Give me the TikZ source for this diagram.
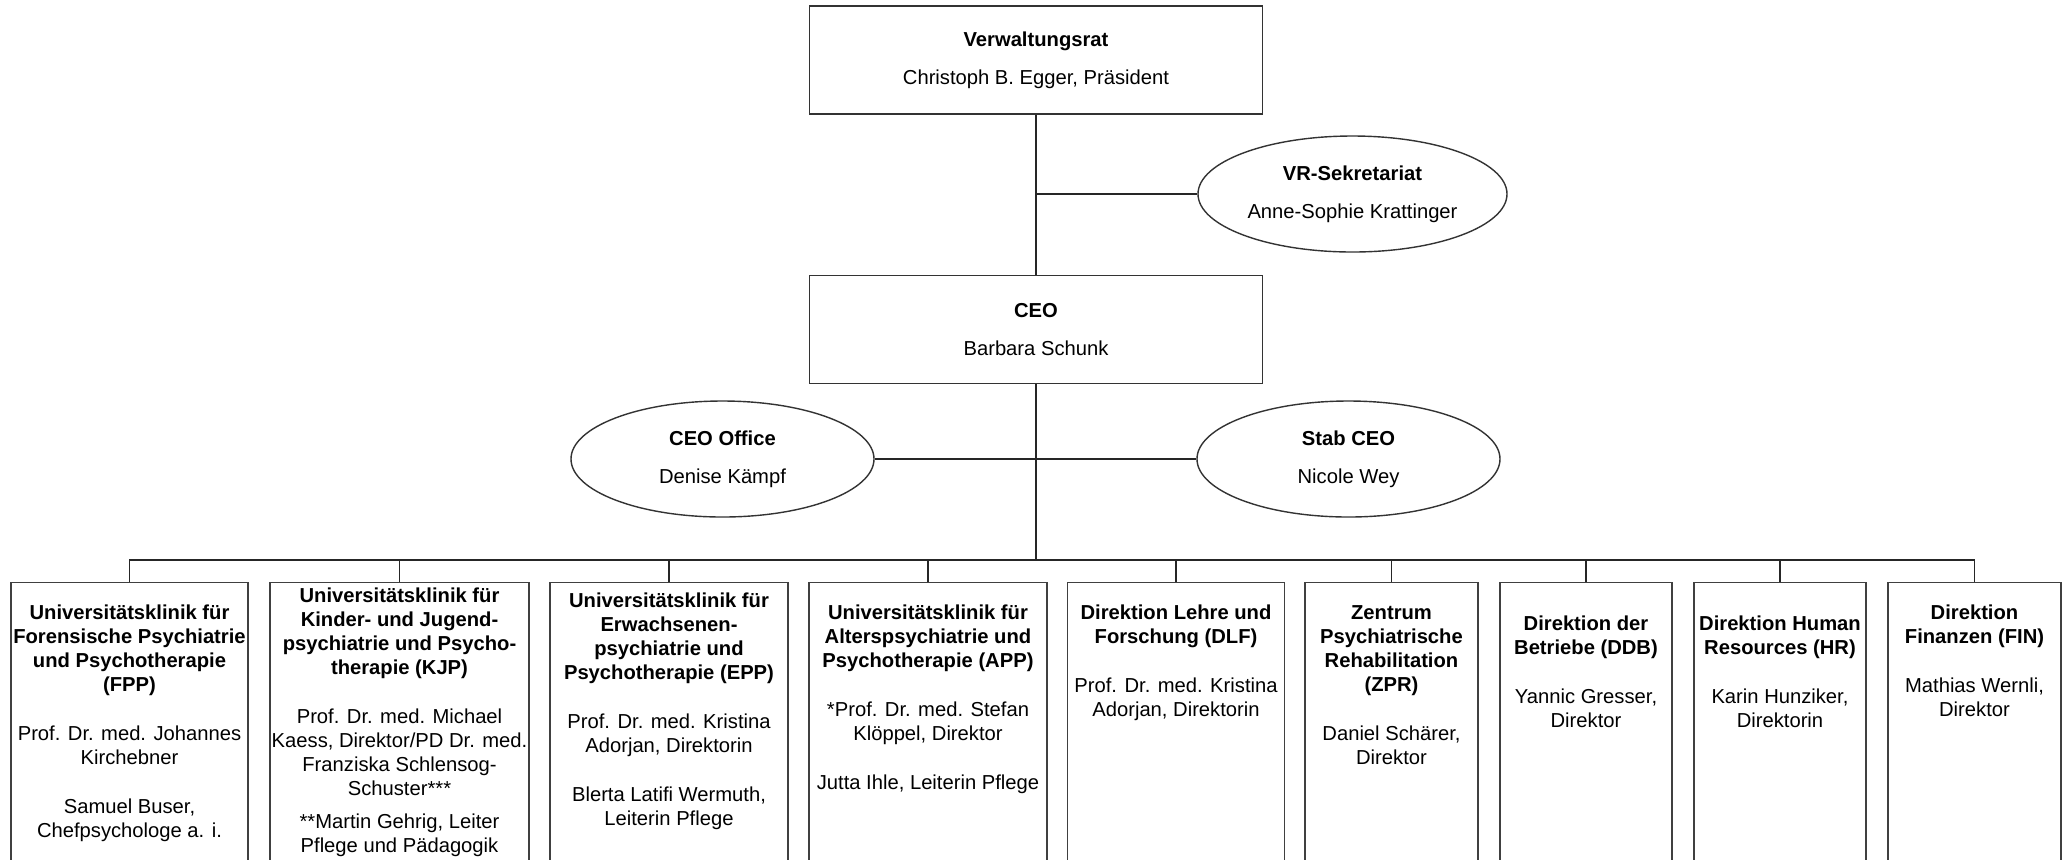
\documentclass[tikz,border=0pt]{standalone}
\usepackage{fontspec}
\setmainfont{Liberation Sans}
\usetikzlibrary{positioning,shapes}
\tikzset{
        every node/.style={font=\fontsize{10.1}{12}\selectfont, align=center}, % Arial-like text everywhere
        link/.style={draw=black!85, line width=0.7pt}, % the connecting lines
    }
\tikzstyle{board}=[draw=black!80,line width=0.7pt,rectangle,minimum width=226.5pt,minimum height=54pt]
\tikzstyle{staff}=[draw=black!80,line width=0.7pt,ellipse,inner sep=0pt,minimum width=151.5pt,minimum height=58pt]
\tikzstyle{unit}=[draw=black!75,line width=0.7pt,rectangle,anchor=north,align=flush center,inner sep=0pt,text height=18.5pt,text depth=160pt]

\begin{document}
\begin{tikzpicture}[x=0.5pt,y=-0.5pt]
    \useasboundingbox[fill=white] (0,0) rectangle (2069,859);

    % top of the chart
    \node[board] (vr) at (1036,60) {\textbf{Verwaltungsrat}\\[7pt]Christoph B. Egger, Präsident};
    \node[staff,minimum width=154.5pt] (vrsek) at (1352.5,194) {\textbf{VR-Sekretariat}\\[7pt]Anne-Sophie Krattinger};
    \node[board] (ceo) at (1036,329.5) {\textbf{CEO}\\[7pt]Barbara Schunk};
    \node[staff] (office) at (722.5,459) {\textbf{CEO Office}\\[7pt]Denise Kämpf};
    \node[staff] (stab) at (1348.5,459) {\textbf{Stab CEO}\\[7pt]Nicole Wey};
    \coordinate (bus) at (1036,560);

    % clinics and directorates
    \node[unit,text width=118.5pt] (fpp) at (129.5,582)
        {{\bfseries Universitätsklinik für\\Forensische Psychiatrie\\und Psychotherapie\\(FPP)}\\[12.5pt]
         Prof. Dr. med. Johannes\\Kirchebner\\[12.5pt]Samuel Buser,\\Chefpsychologe a. i.};
    \node[unit,text width=129.5pt,text height=10pt] (kjp) at (399.5,582)
        {{\bfseries Universitätsklinik für\\Kinder- und Jugend-\\psychiatrie und Psycho-\\therapie (KJP)}\\[12.5pt]
         Prof. Dr. med. Michael\\Kaess, Direktor/PD Dr. med.\\Franziska Schlensog-\\Schuster***\\[4.5pt]
         **Martin Gehrig, Leiter\\Pflege und Pädagogik};
    \node[unit,text width=119pt,text height=12.5pt] (epp) at (669,582)
        {{\bfseries Universitätsklinik für\\Erwachsenen-\\psychiatrie und\\Psychotherapie (EPP)}\\[12.5pt]
         Prof. Dr. med. Kristina\\Adorjan, Direktorin\\[12.5pt]Blerta Latifi Wermuth,\\Leiterin Pflege};
    \node[unit,text width=119pt] (app) at (928,582)
        {{\bfseries Universitätsklinik für\\Alterspsychiatrie und\\Psychotherapie (APP)}\\[12.5pt]
         *Prof. Dr. med. Stefan\\Klöppel, Direktor\\[12.5pt]Jutta Ihle, Leiterin Pflege};
    \node[unit,text width=108.25pt] (dlf) at (1176,582)
        {{\bfseries Direktion Lehre und\\Forschung (DLF)}\\[12.5pt]Prof. Dr. med. Kristina\\Adorjan, Direktorin};
    \node[unit,text width=86.5pt] (zpr) at (1391.5,582)
        {{\bfseries Zentrum\\Psychiatrische\\Rehabilitation\\(ZPR)}\\[12.5pt]Daniel Schärer,\\Direktor};
    \node[unit,text width=86pt,text height=24pt] (ddb) at (1586,582)
        {{\bfseries Direktion der\\Betriebe (DDB)}\\[12.5pt]Yannic Gresser,\\Direktor};
    \node[unit,text width=86pt,text height=24pt] (hr) at (1780,582)
        {{\bfseries Direktion Human\\Resources (HR)}\\[12.5pt]Karin Hunziker,\\Direktorin};
    \node[unit,text width=86.5pt] (fin) at (1974.5,582)
        {{\bfseries Direktion\\Finanzen (FIN)}\\[12.5pt]Mathias Wernli,\\Direktor};

    % lines
    \draw[link] (vr.south) -- (ceo.north);
    \draw[link] (vrsek.west) -- (vr.south |- vrsek.west);
    \draw[link] (office.east) -- (stab.west);
    \draw[link] (ceo.south) -- (bus);
    \foreach \u in {fpp,kjp,epp,app,dlf,zpr,ddb,hr,fin}
        \draw[link] (bus) -| (\u.north);
\end{tikzpicture}
\end{document}
